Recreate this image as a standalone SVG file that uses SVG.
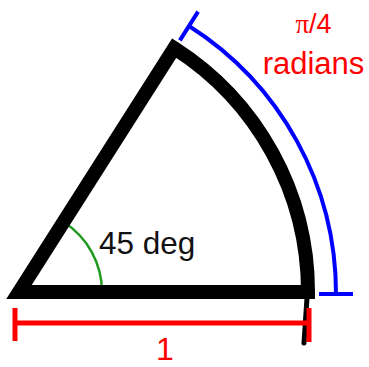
<svg xmlns="http://www.w3.org/2000/svg" width="369" height="367" viewBox="0 0 369 367">
  <style>
    .lbl { font-family: "Liberation Sans", Arial, sans-serif; }
    .red { fill: #ff0000; }
    .dimr { stroke: #ff0000; stroke-width: 5; fill: none; }
    .dimb { stroke: #0000ff; stroke-width: 4; fill: none; }
  </style>
  <rect width="369" height="367" fill="#ffffff"/>
  <g id="angle-mark">
    <path d="M 102,292 A 83 83 0 0 0 63.6,222" fill="none" stroke="#1f9a1f" stroke-width="2.5"/>
  </g>
  <g id="sector">
    <path d="M 19,292 L 174.2,48.1 A 289 289 0 0 1 308,292 Z" fill="none" stroke="#000000" stroke-width="14" stroke-linejoin="miter"/>
    <path d="M 307,298 L 304,343" stroke="#000000" stroke-width="5" stroke-linecap="round"/>
  </g>
  <g id="connectors">
    <g id="arc-dimension">
      <path class="dimb" d="M 189,26 A 317 317 0 0 1 336,294"/>
      <path class="dimb" d="M 179.9,40.4 L 198.1,11.6"/>
      <path class="dimb" d="M 319,294 L 353,294"/>
    </g>
    <g id="radius-dimension">
      <path class="dimr" d="M 15,323 L 309,323"/>
      <path class="dimr" d="M 15,308 L 15,341"/>
      <path class="dimr" d="M 309,308 L 309,342"/>
    </g>
  </g>
  <g id="label-angle">
    <text class="lbl" x="99" y="254" font-size="31.5" fill="#111111">45 deg</text>
  </g>
  <g id="label-radians">
    <text class="lbl red" x="313.5" y="33" font-size="27" text-anchor="middle"><tspan font-family="'Liberation Serif', 'Times New Roman', serif">π</tspan>/4</text>
    <text class="lbl red" x="313.5" y="74" font-size="31" text-anchor="middle">radians</text>
  </g>
  <g id="label-one">
    <text class="lbl red" x="165" y="360" font-size="32" text-anchor="middle">1</text>
  </g>
</svg>
